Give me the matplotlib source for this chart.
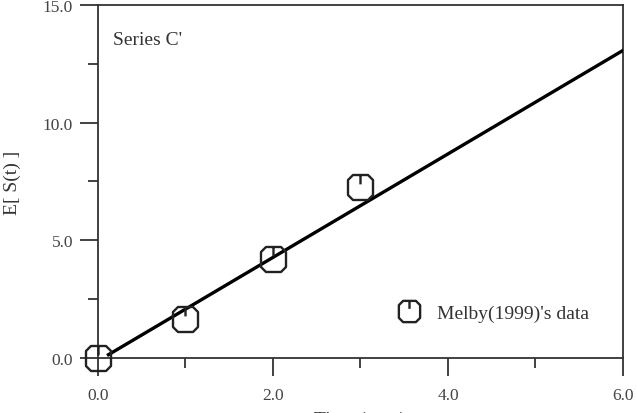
import matplotlib
matplotlib.use("Agg")
import matplotlib.pyplot as plt
import numpy as np
from matplotlib.path import Path
from matplotlib.ticker import MultipleLocator, FormatStrFormatter

# data
time_obs = [0.0, 1.0, 2.0, 3.0]
es_obs = [0.0, 1.66, 4.2, 7.28]
line_t = [0.12, 6.0]
line_s = [0.14, 13.07]

plt.rcParams['font.family'] = ['Liberation Serif', 'DejaVu Serif']

# rounded-square marker with a small tick coming down from the top
verts = [(-1, -0.6), (-0.6, -1), (0.6, -1), (1, -0.6), (1, 0.6), (0.6, 1),
         (-0.6, 1), (-1, 0.6), (-1, -0.6), (0, 1), (0, 0.25)]
codes = [Path.MOVETO] + [Path.LINETO] * 7 + [Path.CLOSEPOLY, Path.MOVETO, Path.LINETO]
box_marker = Path(verts, codes)

fig = plt.figure(figsize=(6.37, 4.14), dpi=100)
ax = fig.add_axes([0.1538, 0.1329, 0.8242, 0.8526])

ax.plot(line_t, line_s, color='black', lw=2.4, zorder=3)
ax.plot(time_obs, es_obs, linestyle='none', marker=box_marker, markersize=18,
        markerfacecolor='none', markeredgecolor='#222222', markeredgewidth=1.7,
        label="Melby(1999)'s data", zorder=4, clip_on=False)

ax.set_xlim(0, 6)
ax.set_ylim(0, 15)
ax.xaxis.set_major_locator(MultipleLocator(2))
ax.xaxis.set_minor_locator(MultipleLocator(1))
ax.yaxis.set_major_locator(MultipleLocator(5))
ax.yaxis.set_minor_locator(MultipleLocator(2.5))
ax.xaxis.set_major_formatter(FormatStrFormatter('%.1f'))
ax.yaxis.set_major_formatter(FormatStrFormatter('%.1f'))

for s in ax.spines.values():
    s.set_linewidth(1.3)
    s.set_color('#333333')
ax.tick_params(which='major', direction='out', length=13, width=1.3,
               color='#333333', labelsize=12.5, labelcolor='#444444', pad=5)
ax.tick_params(which='minor', direction='out', length=7, width=1.3, color='#333333')
ax.tick_params(axis='x', which='major', pad=8)

ax.text(0.029, 0.889, "Series C'", transform=ax.transAxes, fontsize=14,
        color='#333333', va='baseline')

ax.set_ylabel("E[ S(t) ]", fontsize=14, color='#333333', va='center')
ax.yaxis.set_label_coords(-0.164, 0.5)
ax.set_xlabel("Time (year)", fontsize=14, color='#333333', va='top')
ax.xaxis.set_label_coords(0.5, -0.15)

ax.legend(loc='center left', bbox_to_anchor=(0.571, 0.127), frameon=False,
          fontsize=14, borderpad=0, borderaxespad=0, handlelength=1.2,
          handletextpad=0.8, labelcolor='#333333', markerscale=0.85)

fig.savefig("out.png", dpi=100)
